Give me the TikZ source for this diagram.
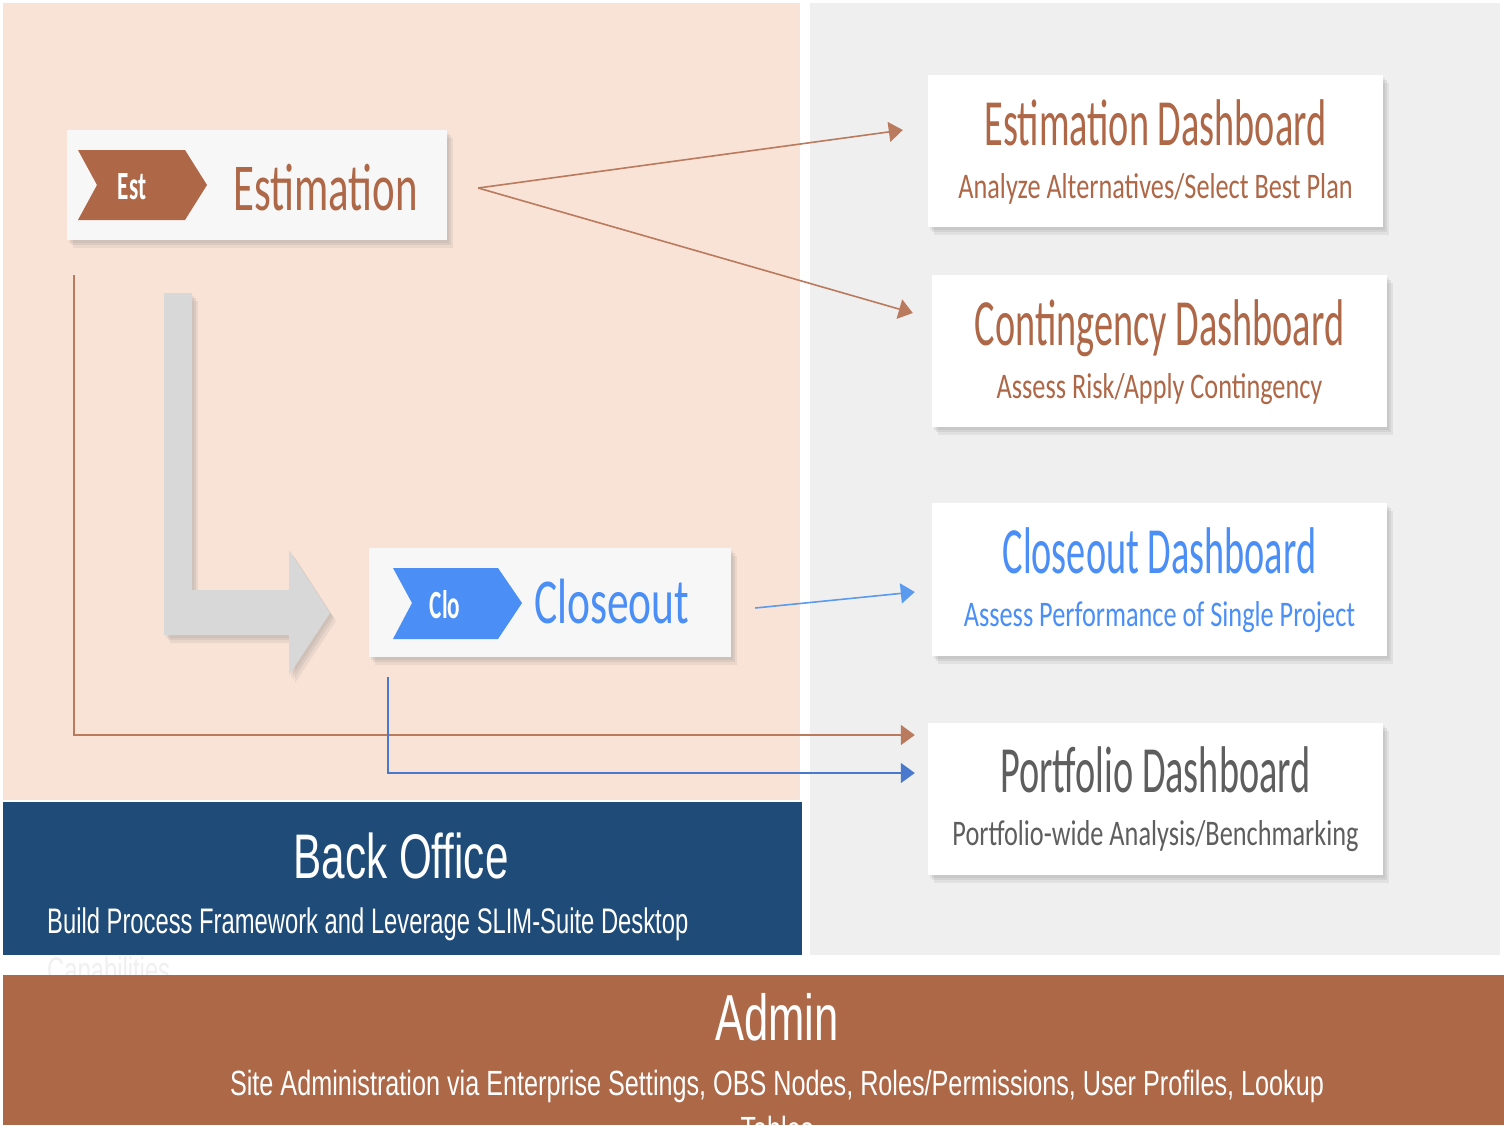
\documentclass[tikz,border=0pt]{standalone}
\usepackage{fontspec}
\setmainfont{Carlito}[FakeStretch=0.58]
\newfontfamily\subfont{Carlito}[FakeStretch=0.73]
\newfontfamily\estfont{Carlito}[FakeStretch=0.64]
\newfontfamily\clofont{Carlito}[FakeStretch=0.68]
\newfontfamily\bannerfont{Liberation Sans}[FakeStretch=0.67]
\newfontfamily\adminfont{Liberation Sans}[FakeStretch=0.72]
\usepackage{xcolor}
\usetikzlibrary{arrows.meta,shadows,positioning,calc}

\definecolor{peachbg}{HTML}{F9E3D6}
\definecolor{panelgray}{HTML}{EFEFEF}
\definecolor{backnavy}{HTML}{1F4B78}
\definecolor{adminbrown}{HTML}{AD6848}
\definecolor{estbrown}{HTML}{AE6747}
\definecolor{cloblue}{HTML}{4A8EF6}
\definecolor{portgray}{HTML}{5E5E5E}
\definecolor{cardgray}{HTML}{F7F7F7}
\definecolor{arrowgray}{HTML}{D8D8D8}
\definecolor{linkbrown}{HTML}{B97A5E}
\definecolor{linkblue}{HTML}{5B9BEF}
\definecolor{linkdeep}{HTML}{4A78CC}

\tikzset{
	softshadow/.style={
		drop shadow={opacity=0.12,shadow xshift=2pt,shadow yshift=-3pt},
		drop shadow={opacity=0.14,shadow xshift=4pt,shadow yshift=-5pt},
		drop shadow={opacity=0.12,shadow xshift=6pt,shadow yshift=-8pt}}
}

\begin{document}
\begin{tikzpicture}[x=1pt,y=-1pt,
	card/.style={fill=white,inner sep=0pt,minimum width=455pt,minimum height=152pt,softshadow},
	tagcard/.style={card,fill=cardgray,minimum height=110pt},
	dashtitle/.style={anchor=base,inner sep=0pt,font=\fontsize{66}{66}\selectfont},
	dashsub/.style={anchor=base,inner sep=0pt,font=\subfont\fontsize{36}{36}\selectfont},
	tagtext/.style={text=white,inner sep=0pt,font=\bfseries\fontsize{40}{40}\selectfont},
	bigtitle/.style={anchor=base west,inner sep=0pt},
	brownlink/.style={draw=linkbrown,line width=1.6pt,-{Triangle[length=14pt,width=20pt]}},
	bluelink/.style={draw=linkblue,line width=1.6pt,-{Triangle[length=14pt,width=20pt]}},
	deeplink/.style={draw=linkdeep,line width=1.6pt,-{Triangle[length=14pt,width=20pt]}}]

	\useasboundingbox (0,0) rectangle (1504,1125);
	\fill[white] (0,0) rectangle (1504,1125);

	% panels
	\fill[peachbg] (3,3) rectangle (800,800);
	\fill[panelgray] (810,3) rectangle (1500,955);
	\node[anchor=base west,inner sep=0pt,text=black!6,font=\bannerfont\fontsize{35.5}{35.5}\selectfont]
		(backmore) at (47,982) {Capabilities};
	\fill[backnavy] (3,802) rectangle (802,955);
	\fill[adminbrown] (3,975) rectangle (1504,1125);

	% back office and admin
	\node[anchor=base,inner sep=0pt,text=white,font=\bannerfont\fontsize{63}{63}\selectfont]
		(backtitle) at (401,878) {Back Office};
	\node[anchor=base west,inner sep=0pt,text=white,font=\bannerfont\fontsize{35.5}{35.5}\selectfont]
		(backsub) at (47,933) {Build Process Framework and Leverage SLIM-Suite Desktop};
	\node[anchor=base,inner sep=0pt,text=white,font=\bannerfont\fontsize{65}{65}\selectfont]
		(admintitle) at (777,1040) {Admin};
	\node[anchor=base,inner sep=0pt,text=white,font=\adminfont\fontsize{35}{35}\selectfont]
		(adminsub) at (777,1095) {Site Administration via Enterprise Settings, OBS Nodes, Roles/Permissions, User Profiles, Lookup};
	\node[anchor=base,inner sep=0pt,text=white,font=\adminfont\fontsize{35}{35}\selectfont]
		(adminmore) at (777,1141) {Tables};

	% gray turn arrow
	\fill[arrowgray,softshadow]
		(164,293) -- (192,293) -- (192,590) -- (289,590) -- (289,550) -- (330,613)
		-- (289,675) -- (289,635) -- (164,635) -- cycle;

	% estimation
	\node[tagcard,minimum width=380pt] (estcard) at (257,185) {};
	\fill[estbrown] (78,150) -- (185,150) -- (207,185) -- (185,220) -- (78,220) -- (97,185) -- cycle;
	\node[tagtext] (esttag) at (132,187) {Est};
	\node[bigtitle,text=estbrown,font=\estfont\fontsize{67}{67}\selectfont] (esttitle) at (233,210) {Estimation};

	% closeout
	\node[tagcard,minimum width=362pt,minimum height=109pt] (clocard) at (550,602.5) {};
	\fill[cloblue] (393,568) -- (498,568) -- (522,603) -- (498,639) -- (393,639) -- (412,603) -- cycle;
	\node[tagtext] (clotag) at (445,605) {Clo};
	\node[bigtitle,text=cloblue,font=\clofont\fontsize{64}{64}\selectfont] (clotitle) at (534,623) {Closeout};

	% dashboards
	\node[card] (estdash) at (1155.5,151) {};
	\node[dashtitle,text=estbrown] at ($(estdash.north)+(0,71)$) {Estimation Dashboard};
	\node[dashsub,text=estbrown] at ($(estdash.north)+(0,124)$) {Analyze Alternatives/Select Best Plan};

	\node[card] (contdash) at (1159.5,351) {};
	\node[dashtitle,text=estbrown] at ($(contdash.north)+(0,71)$) {Contingency Dashboard};
	\node[dashsub,text=estbrown] at ($(contdash.north)+(0,124)$) {Assess Risk/Apply Contingency};

	\node[card,minimum height=153pt] (clodash) at (1159.5,579.5) {};
	\node[dashtitle,text=cloblue] at ($(clodash.north)+(0,71)$) {Closeout Dashboard};
	\node[dashsub,text=cloblue] at ($(clodash.north)+(0,124)$) {Assess Performance of Single Project};

	\node[card] (portdash) at (1155.5,799) {};
	\node[dashtitle,text=portgray] at ($(portdash.north)+(0,70)$) {Portfolio Dashboard};
	\node[dashsub,text=portgray] at ($(portdash.north)+(0,123)$) {Portfolio-wide Analysis/Benchmarking};

	% connectors
	\coordinate (estout) at ($(estcard.east)+(31,3)$);
	\coordinate (estdashin) at ($(estdash.west)+(-25,-21)$);
	\coordinate (contdashin) at ($(contdash.west)+(-19,-38)$);
	\coordinate (cloout) at ($(clocard.east)+(24,5.5)$);
	\coordinate (clodashin) at ($(clodash.west)+(-17,12.5)$);
	\coordinate (estdown) at ($(estcard.south west)+(7,35)$);
	\coordinate (clodown) at ($(clocard.south west)+(19,20)$);
	\coordinate (portinest) at ($(portdash.west)+(-13,-64)$);
	\coordinate (portinclo) at ($(portdash.west)+(-13,-26)$);

	\draw[brownlink] (estout) -- (estdashin);
	\draw[brownlink] (estout) -- (contdashin);
	\draw[bluelink] (cloout) -- (clodashin);
	\draw[brownlink] (estdown) |- (portinest);
	\draw[deeplink] (clodown) |- (portinclo);
\end{tikzpicture}
\end{document}
